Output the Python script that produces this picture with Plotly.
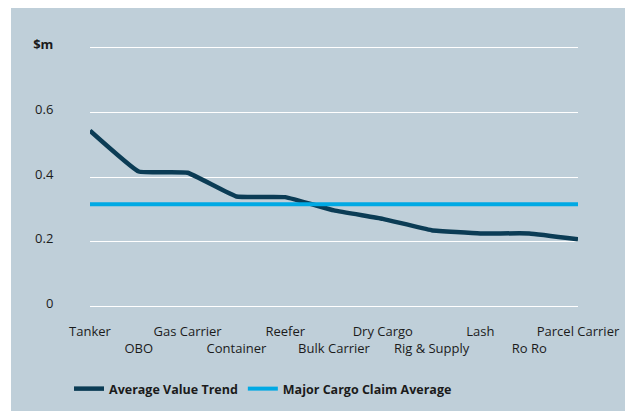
import plotly.graph_objects as go

categories = ["Tanker", "OBO", "Gas Carrier", "Container", "Reefer", "Bulk Carrier",
              "Dry Cargo", "Rig & Supply", "Lash", "Ro Ro", "Parcel Carrier"]
average_value_trend = [0.543, 0.417, 0.413, 0.340, 0.338, 0.297, 0.271, 0.236, 0.226, 0.226, 0.208]
major_cargo_claim_average = [0.316] * len(categories)
y_tick_vals = [0, 0.2, 0.4, 0.6, 0.8]
y_tick_text = ["0", "0.2", "0.4", "0.6", "<b>$m</b>"]

BG = "#bfcfd9"
DARK = "#0b3c55"
CYAN = "#00a9e4"
TEXT = "#1b1b1b"

x_idx = list(range(len(categories)))
x_text = [c if i % 2 == 0 else "<br>" + c for i, c in enumerate(categories)]

fig = go.Figure()
fig.add_trace(go.Scatter(
    x=x_idx, y=average_value_trend, mode="lines", name="<b>Average Value Trend</b>",
    line=dict(color=DARK, width=4.5, shape="spline", smoothing=0.3),
))
fig.add_trace(go.Scatter(
    x=x_idx, y=major_cargo_claim_average, mode="lines", name="<b>Major Cargo Claim Average</b>",
    line=dict(color=CYAN, width=4),
))

# figure sits at (8,8) inside the page body
FW, FH = 625, 403
L, R, T, B = 82, 55, 35.5, 101.25
W = FW - L - R

# thin white strip on the left edge
fig.add_shape(type="rect", xref="paper", yref="paper", layer="below",
              x0=(0 - L) / W, x1=(3 - L) / W, y0=-1, y1=2,
              fillcolor="white", line=dict(width=0))

fig.update_layout(
    width=FW, height=FH,
    margin=dict(l=L, r=R, t=T, b=B, autoexpand=False),
    paper_bgcolor=BG, plot_bgcolor=BG,
    font=dict(family="Open Sans", size=13, color=TEXT),
    showlegend=True,
    legend=dict(orientation="h", x=-0.043, xanchor="left", y=-0.297, yanchor="middle",
                bgcolor="rgba(0,0,0,0)", font=dict(size=12.5, color=TEXT), itemwidth=30,
                tracegroupgap=0),
    xaxis=dict(range=[0, len(categories) - 1], tickvals=x_idx, ticktext=x_text,
               showgrid=False, zeroline=False, showline=False, automargin=False,
               ticks="outside", ticklen=9, tickcolor="rgba(0,0,0,0)",
               tickangle=0, fixedrange=True),
    yaxis=dict(range=[-0.01, 0.81], tickvals=y_tick_vals, ticktext=y_tick_text,
               showgrid=True, gridcolor="white", gridwidth=1.3, zeroline=False,
               showline=False, automargin=False,
               ticks="outside", ticklen=33, tickcolor="rgba(0,0,0,0)",
               ticklabelshift=-3, fixedrange=True),
)

fig.write_html("out.html")
